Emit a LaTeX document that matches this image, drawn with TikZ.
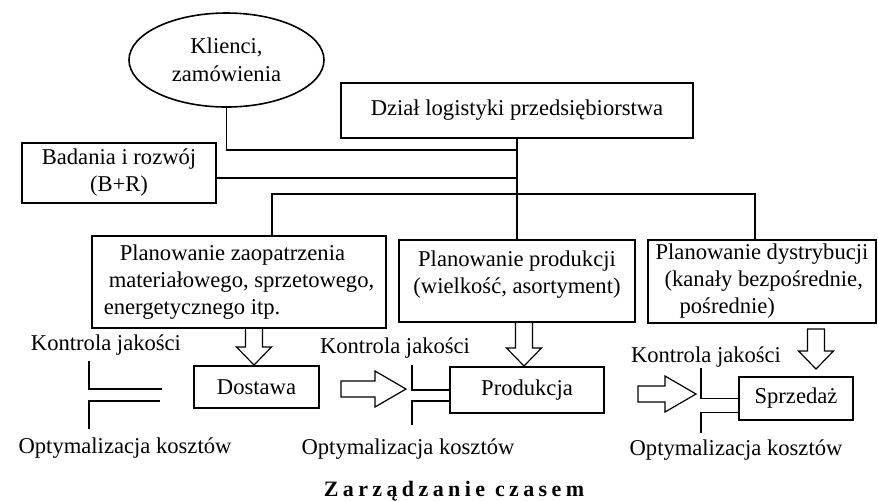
\documentclass[tikz,border=0pt]{standalone}
\usepackage{fontspec}
\setmainfont{Liberation Serif}
\newfontfamily\titlefont[LetterSpace=20]{Liberation Serif}
\usetikzlibrary{shapes.geometric}

\begin{document}
\begin{tikzpicture}[x=0.5pt,y=-0.5pt,
  font=\fontsize{11.3}{13.5}\selectfont,
  line width=0.8pt,
  boxnode/.style={draw, rectangle, inner sep=0pt},
  ovalnode/.style={draw, ellipse, inner sep=0pt, align=center},
  lbl/.style={inner sep=0pt}]
  \useasboundingbox (0,0) rectangle (878,500);

  % upper part
  \node[ovalnode, minimum width=97.5pt, minimum height=47pt] (klienci) at (226.5,60) {Klienci,\\[0.5pt]zamówienia};
  \node[boxnode, minimum width=176pt, minimum height=27.5pt] (dzial) at (517,110.5) {Dział logistyki przedsiębiorstwa};
  \node[boxnode, minimum width=97pt, minimum height=30pt, align=center] (badania) at (119,173) {Badania i rozwój\\(B+R)};

  % planning boxes
  \node[boxnode, minimum width=147pt, minimum height=46pt, align=left] (planzaop) at (239,282) {\hspace*{8pt}Planowanie zaopatrzenia\\\hspace*{2.5pt}materiałowego, sprzetowego,\\energetycznego itp.};
  \node[boxnode, minimum width=118pt, minimum height=41pt, align=center] (planprod) at (517,281) {Planowanie produkcji\\(wielkość, asortyment)\\[-5pt]\mbox{}};
  \node[boxnode, minimum width=114pt, minimum height=41.5pt, align=left] (plandyst) at (762,281.5) {Planowanie dystrybucji\\\hspace*{4.5pt}(kanały bezpośrednie,\\\hspace*{12pt}pośrednie)};

  % lower boxes
  \node[boxnode, minimum width=62.5pt, minimum height=21pt] (dostawa) at (256.5,387) {Dostawa};
  \node[boxnode, minimum width=77pt, minimum height=23pt] (produkcja) at (527,390) {Produkcja};
  \node[boxnode, minimum width=57pt, minimum height=21.5pt] (sprzedaz) at (796,398.5) {Sprzedaż};

  \node[lbl] (kj1) at (106,345) {Kontrola jakości};
  \node[lbl] (kj2) at (395,348) {Kontrola jakości};
  \node[lbl] (kj3) at (706,357) {Kontrola jakości};
  \node[lbl] (ok1) at (125,448) {Optymalizacja kosztów};
  \node[lbl] (ok2) at (408,449) {Optymalizacja kosztów};
  \node[lbl] (ok3) at (736,450) {Optymalizacja kosztów};
  \node[lbl] (tytul) at (454,491) {\fontsize{11}{13}\titlefont\bfseries Zarządzanie czasem};

  % lines
  \coordinate (kjoin) at (517,150);
  \coordinate (bjoin) at (517,178);
  \coordinate (busL) at (272,194);
  \coordinate (busR) at (755,194);
  \draw (klienci.south) |- (kjoin);
  \draw (badania.east |- bjoin) -- (bjoin);
  \draw (dzial.south) -- (planprod.north);
  \draw (planzaop.north -| busL) |- (busR) -- (plandyst.north -| busR);

  \coordinate (kq1) at (89,361);
  \coordinate (ke1) at (162,389);
  \coordinate (oe1) at (160,401);
  \coordinate (ko1) at (89,429);
  \draw (kq1) |- (ke1);
  \draw (oe1) -| (ko1);
  \coordinate (kq2) at (412,365);
  \coordinate (ko2) at (412,425);
  \draw (produkcja.west) -| (kq2);
  \draw ([yshift=-5.5pt]produkcja.west) -| (ko2);
  \coordinate (kq3) at (701,368);
  \coordinate (ko3) at (701,433);
  \draw (sprzedaz.west) -| (kq3);
  \draw ([yshift=-7pt]sprzedaz.west) -| (ko3);

  % hollow arrows
  \foreach \ax/\ay/\at in {254/328/365, 524/322/366, 816/329/369}
    \draw[line width=0.6pt] (\ax-8.5,\ay) -- (\ax+8.5,\ay) -- (\ax+8.5,\at-18) -- (\ax+17.5,\at-18)
      -- (\ax,\at) -- (\ax-17.5,\at-18) -- (\ax-8.5,\at-18) -- cycle;
  \foreach \ax/\ay/\at in {341/389/406, 638/394/696}
    \draw[line width=0.6pt] (\ax,\ay-8) -- (\at-31,\ay-8) -- (\at-31,\ay-18) -- (\at,\ay)
      -- (\at-31,\ay+18) -- (\at-31,\ay+8) -- (\ax,\ay+8) -- cycle;
\end{tikzpicture}
\end{document}
